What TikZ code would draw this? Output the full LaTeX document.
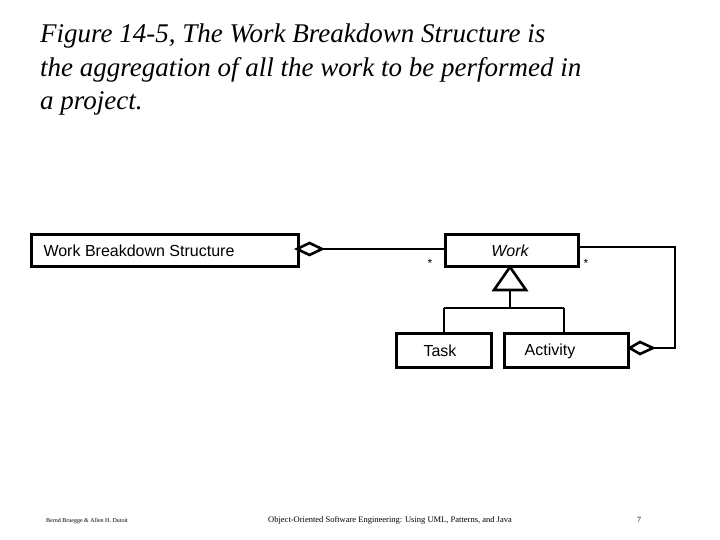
\documentclass[tikz,border=0pt]{standalone}
\usepackage{fontspec}
\setmainfont{Liberation Serif}
\setsansfont{Liberation Sans}
\begin{document}
\begin{tikzpicture}[x=1pt,y=-1pt,
  box/.style={draw,line width=2.6pt,inner sep=0pt,anchor=north west},
  ln/.style={line width=2.6pt},
  lbl/.style={font=\sffamily\fontsize{16}{16}\selectfont},
  foot/.style={anchor=base west,inner sep=0pt}]
\useasboundingbox (0,0) rectangle (720,540);
\node[anchor=north west,inner sep=0pt,align=left,font=\itshape\fontsize{27}{33.5}\selectfont] (title) at (40,24)
 {Figure 14-5, The Work Breakdown Structure is\\the aggregation of all the work to be performed in\\a project.};
\node[box,minimum width=267pt,minimum height=32pt] (wbs) at (30,233) {};
\node[lbl,anchor=west] (wbst) at (40,251) {Work Breakdown Structure};
\node[box,minimum width=133pt,minimum height=32pt] (work) at (444,233) {};
\node[lbl,font=\sffamily\itshape\fontsize{16}{16}\selectfont] (workt) at (510,251) {Work};
\node[box,minimum width=95pt,minimum height=34pt] (task) at (395,332) {};
\node[lbl] (taskt) at (440,351) {Task};
\node[box,minimum width=124pt,minimum height=34pt] (act) at (503,332) {};
\node[lbl] (actt) at (550,351) {Activity};
% aggregation WBS -> Work
\coordinate (d1) at (322,249);
\draw[ln,fill=white] (297,249) -- (309.5,243) -- (d1) -- (309.5,255) -- cycle;
\draw[ln] (d1) -- (work.west |- d1);
\node[font=\sffamily\fontsize{12}{12}\selectfont] (s1) at (430,263) {*};
\node[font=\sffamily\fontsize{12}{12}\selectfont] (s2) at (586,263) {*};
% self aggregation
\coordinate (d2) at (653,348);
\draw[ln,fill=white] (act.east |- d2) -- (640,342) -- (d2) -- (640,354) -- cycle;
\coordinate (c1) at (675,348);
\coordinate (c2) at (675,247);
\draw[ln] (d2) -- (c1) -- (c2) -- (work.east |- c2);
% generalization
\coordinate (ta) at (510,267);
\draw[ln,fill=white] (ta) -- (526,290) -- (494,290) -- cycle;
\coordinate (j) at (510,308);
\draw[ln] (510,290) -- (j);
\draw[ln] (444,308) -- (564,308);
\draw[ln] (444,308) -- (task.north -| 444,0);
\draw[ln] (564,308) -- (act.north -| 564,0);
% footer
\node[foot,font=\fontsize{6}{6}\selectfont] (f1) at (46,522) {Bernd Bruegge \& Allen H. Dutoit};
\node[foot,font=\fontsize{8.5}{8.5}\selectfont] (f2) at (268,522) {Object-Oriented Software Engineering: Using UML, Patterns, and Java};
\node[foot,font=\fontsize{8}{8}\selectfont] (f3) at (637,522) {7};
\end{tikzpicture}
\end{document}
